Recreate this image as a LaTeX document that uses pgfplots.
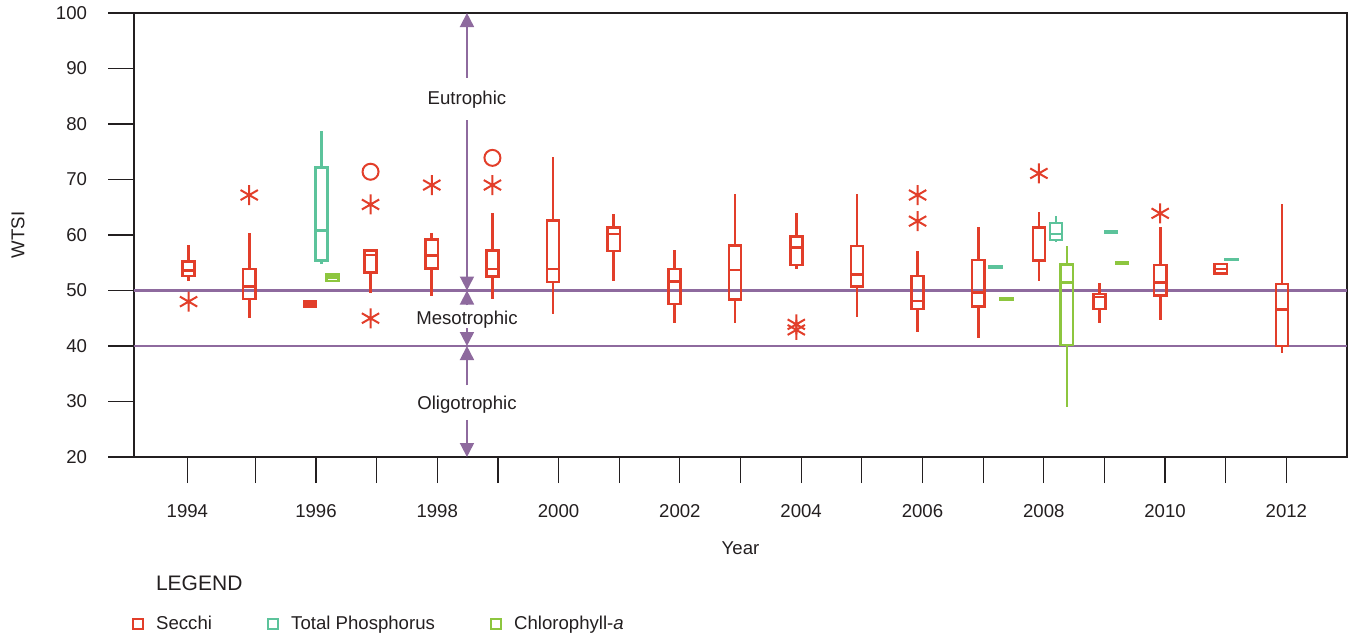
\documentclass[border=0pt]{standalone}
\usepackage{fontspec}
\setmainfont{Liberation Sans}
\usepackage{pgfplots}
\pgfplotsset{compat=1.18}
\usepgfplotslibrary{statistics}
\usetikzlibrary{arrows.meta}

\definecolor{secchi}{RGB}{226,62,42}
\definecolor{tp}{RGB}{92,195,155}
\definecolor{chla}{RGB}{141,198,63}
\definecolor{troph}{RGB}{142,106,158}
\definecolor{txt}{RGB}{35,31,32}

% box: style, position, lower whisker, lower quartile, median, upper quartile, upper whisker
\newcommand{\bx}[7]{\addplot[#1, line width=1.3pt, forget plot, boxplot prepared={draw position=#2,
  lower whisker=#3, lower quartile=#4, median=#5, upper quartile=#6, upper whisker=#7}] coordinates {};}

\begin{document}
\begin{tikzpicture}[font=\fontsize{9.3}{11}\selectfont, text=txt]
\useasboundingbox (-67pt,-91pt) rectangle (609.5pt,228.5pt);
\begin{axis}[
  scale only axis, width=606.5pt, height=222pt,
  xmin=1993, xmax=2013, ymin=20, ymax=100,
  ytick={20,30,...,100},
  xtick={1993.88,1995,1996,1997,1998,1999,2000,2001,2002,2003,2004,2005,2006,2007,2008,2009,2010,2011,2012},
  xticklabels={1994,,1996,,1998,,2000,,2002,,2004,,2006,,2008,,2010,,2012},
  tick align=outside, major tick length=13pt,
  xtick pos=bottom, ytick pos=left,
  axis line style={txt, line width=0.6pt},
  tick style={txt, line width=0.6pt},
  tick label style={font=\fontsize{9.3}{11}\selectfont, text=txt},
  yticklabel style={xshift=-7pt},
  xticklabel style={yshift=-7pt},
  /pgf/number format/assume math mode=true,
  clip=false,
  boxplot/draw direction=y,
  boxplot/box extend=0.2,
  boxplot/whisker extend=0,
  legend image code/.code={\draw[#1, line width=0.9pt, fill=none] (0pt,-2.6pt) rectangle (5.2pt,2.6pt);},
  legend style={draw=none, fill=none, inner sep=0pt, outer sep=0pt,
    legend columns=3, nodes={inner sep=0pt},
    /tikz/every odd column/.append style={column sep=6pt},
    /tikz/every even column/.append style={column sep=27.5pt},
    at={(0,0)}, anchor=west, xshift=-1pt, yshift=-83.5pt},
  legend cell align=left,
]
% trophic boundaries
\addplot[troph, line width=1.2pt, forget plot] coordinates {(1993,50) (2013,50)};
\addplot[troph, line width=1.2pt, forget plot] coordinates {(1993,40) (2013,40)};

% trophic arrows
\addplot[troph, line width=0.9pt, forget plot, -{Triangle[width=7pt,length=7pt]}] coordinates {(1998.49,88.3) (1998.49,100)};
\addplot[troph, line width=0.9pt, forget plot, -{Triangle[width=7pt,length=7pt]}] coordinates {(1998.49,80.7) (1998.49,50)};
\addplot[troph, line width=0.9pt, forget plot, -{Triangle[width=7pt,length=7pt]}] coordinates {(1998.49,47.3) (1998.49,50)};
\addplot[troph, line width=0.9pt, forget plot, -{Triangle[width=7pt,length=7pt]}] coordinates {(1998.49,43.2) (1998.49,40)};
\addplot[troph, line width=0.9pt, forget plot, -{Triangle[width=7pt,length=7pt]}] coordinates {(1998.49,32.9) (1998.49,40)};
\addplot[troph, line width=0.9pt, forget plot, -{Triangle[width=7pt,length=7pt]}] coordinates {(1998.49,26.7) (1998.49,20)};
\node at (axis cs:1998.49,84.3) {Eutrophic};
\node at (axis cs:1998.49,44.7) {Mesotrophic};
\node at (axis cs:1998.49,29.5) {Oligotrophic};

% Secchi
\bx{secchi}{1993.90}{51.8}{52.6}{53.6}{55.2}{58.2}
\bx{secchi}{1994.90}{45.0}{48.5}{50.7}{53.9}{60.3}
\bx{secchi}{1995.90}{47.1}{47.1}{47.5}{48.0}{48.0}
\bx{secchi}{1996.90}{49.6}{53.2}{56.4}{57.2}{57.3}
\bx{secchi}{1997.91}{49.0}{54.0}{56.3}{59.2}{60.3}
\bx{secchi}{1998.91}{48.4}{52.5}{53.9}{57.2}{64.0}
\bx{secchi}{1999.91}{45.8}{51.5}{53.9}{62.6}{74.1}
\bx{secchi}{2000.91}{51.8}{57.1}{60.2}{61.4}{63.7}
\bx{secchi}{2001.91}{44.2}{47.6}{51.6}{53.9}{57.3}
\bx{secchi}{2002.91}{44.2}{48.4}{53.7}{58.1}{67.3}
\bx{secchi}{2003.92}{53.8}{54.6}{57.8}{59.7}{64.0}
\bx{secchi}{2004.92}{45.3}{50.7}{52.9}{58.0}{67.3}
\bx{secchi}{2005.92}{42.5}{46.7}{48.1}{52.6}{57.2}
\bx{secchi}{2006.92}{41.5}{47.1}{49.6}{55.5}{61.4}
\bx{secchi}{2007.92}{51.8}{55.4}{55.5}{61.4}{64.1}
\bx{secchi}{2008.92}{44.2}{46.7}{48.8}{49.4}{51.4}
\bx{secchi}{2009.92}{44.6}{49.1}{51.4}{54.6}{61.4}
\bx{secchi}{2010.92}{53.1}{53.1}{53.9}{54.8}{54.8}
\bx{secchi}{2011.93}{38.7}{40.0}{46.6}{51.2}{65.6}
\addplot[secchi, forget plot, only marks, mark=asterisk, mark size=5pt, line width=1pt] coordinates {
 (1993.90,48.0) (1994.90,67.2) (1996.90,65.5) (1996.90,45.0) (1997.91,69.0) (1998.91,69.0)
 (2003.92,43.9) (2003.92,42.9) (2005.92,67.2) (2005.92,62.5) (2007.92,71.1) (2009.92,63.9)};
\addplot[secchi, forget plot, only marks, mark=o, mark size=4pt, line width=1pt] coordinates {
 (1996.90,71.4) (1998.91,73.9)};

% Total Phosphorus
\bx{tp}{1996.09}{54.8}{55.4}{60.8}{72.2}{78.8}
\bx{tp}{2007.21}{54.2}{54.1}{54.2}{54.3}{54.2}
\bx{tp}{2008.20}{58.7}{59.1}{60.2}{62.2}{63.5}
\bx{tp}{2009.11}{60.5}{60.4}{60.5}{60.6}{60.5}
\bx{tp}{2011.10}{55.6}{55.5}{55.6}{55.7}{55.6}

% Chlorophyll-a
\bx{chla}{1996.27}{51.7}{51.7}{52.3}{52.9}{52.9}
\bx{chla}{2007.38}{48.5}{48.4}{48.5}{48.6}{48.5}
\bx{chla}{2008.38}{29.1}{40.2}{51.4}{54.7}{58.1}
\bx{chla}{2009.29}{54.9}{54.8}{54.9}{55.0}{54.9}

\addlegendimage{draw=secchi}\addlegendentry{Secchi}
\addlegendimage{draw=tp}\addlegendentry{Total Phosphorus}
\addlegendimage{draw=chla}\addlegendentry{Chlorophyll-\textit{a}}

\node at (axis description cs:0.5,0) [yshift=-45.5pt] {Year};
\path (axis description cs:0,0.5) ++(-58pt,0pt) node[rotate=90] {WTSI};
\node[anchor=west, font=\fontsize{10.5}{12}\selectfont] at (axis description cs:0,0) [xshift=7.5pt, yshift=-63pt] {LEGEND};
\end{axis}
\end{tikzpicture}
\end{document}
